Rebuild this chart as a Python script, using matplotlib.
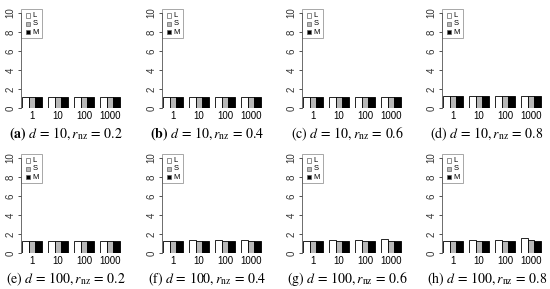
#!/usr/bin/env python3
#
# Grid of 8 bar plots: L / S / M ratio vs. group size
#

import numpy as np
import matplotlib.pyplot as plt

plt.rcParams['mathtext.fontset'] = 'stix'
plt.rcParams['font.family'] = ['Liberation Sans', 'DejaVu Sans']

groups = ['1', '10', '100', '1000']
methods = ['L', 'S', 'M']
colors = ['white', '#b8b8b8', 'black']

letters = ['a', 'b', 'c', 'd', 'e', 'f', 'g', 'h']
d_vals = [10, 10, 10, 10, 100, 100, 100, 100]
rnz_vals = [0.2, 0.4, 0.6, 0.8, 0.2, 0.4, 0.6, 0.8]

# values[panel][method][group]
vals_a = [[1.2, 1.2, 1.2, 1.2], [1.2, 1.2, 1.2, 1.2], [1.2, 1.2, 1.2, 1.2]]
vals_b = [[1.2, 1.2, 1.2, 1.2], [1.2, 1.2, 1.2, 1.2], [1.2, 1.2, 1.2, 1.2]]
vals_c = [[1.2, 1.2, 1.2, 1.2], [1.2, 1.2, 1.2, 1.2], [1.2, 1.2, 1.2, 1.2]]
vals_d = [[1.25, 1.25, 1.25, 1.25], [1.25, 1.25, 1.25, 1.25], [1.25, 1.25, 1.25, 1.25]]
vals_e = [[1.3, 1.3, 1.3, 1.3], [1.3, 1.3, 1.3, 1.3], [1.3, 1.3, 1.3, 1.3]]
vals_f = [[1.3, 1.38, 1.38, 1.4], [1.3, 1.3, 1.3, 1.3], [1.3, 1.3, 1.3, 1.3]]
vals_g = [[1.3, 1.35, 1.35, 1.5], [1.3, 1.3, 1.3, 1.3], [1.3, 1.3, 1.3, 1.3]]
vals_h = [[1.3, 1.38, 1.35, 1.62], [1.3, 1.3, 1.3, 1.35], [1.3, 1.3, 1.3, 1.3]]
values = [vals_a, vals_b, vals_c, vals_d, vals_e, vals_f, vals_g, vals_h]

W, H = 550, 289
col_x = [21, 162, 302, 442]   # pixel x of y-axis
row_y0 = [108, 253]           # pixel y of value 0
px_h = 95                     # pixels from 0 to 10
px_w = 100


def make_plot(ax, vals):
	for m in range(3):
		x = np.arange(4) * 4 + 1 + m
		ax.bar(x, vals[m], width=1, align='edge', color=colors[m],
			edgecolor='black', linewidth=0.6)
	ax.set_xlim(0.85, 16.15)
	ax.set_ylim(0, 10)
	ax.set_xticks(np.arange(4) * 4 + 2.5)
	ax.set_xticklabels(groups, fontsize=7)
	ax.tick_params(axis='x', length=0, pad=2.5)
	ax.set_yticks(range(0, 11, 2))
	ax.tick_params(axis='y', labelsize=7, length=2.5, width=0.6, pad=1.5,
		colors='#333333')
	for lab in ax.get_yticklabels():
		lab.set_rotation(90)
		lab.set_va('center')
	for s in ['top', 'right', 'bottom']:
		ax.spines[s].set_visible(False)
	ax.spines['left'].set_linewidth(0.6)
	ax.spines['left'].set_color('#555555')
	# legend box
	ax.add_patch(plt.Rectangle((0.85, 7.35), 3.2, 3.05, fill=False,
		edgecolor='#999999', linewidth=0.6, clip_on=False))
	for m in range(3):
		yy = 9.7 - m * 0.85
		ax.add_patch(plt.Rectangle((1.55, yy - 0.25), 0.75, 0.5,
			facecolor=colors[m], edgecolor='#666666', linewidth=0.5,
			clip_on=False))
		ax.text(2.6, yy, methods[m], fontsize=5.5, va='center', ha='left',
			clip_on=False)


fig = plt.figure(figsize=(W / 100, H / 100), dpi=100)

for i in range(8):
	r, c = divmod(i, 4)
	ax = fig.add_axes([col_x[c] / W, (H - row_y0[r]) / H, px_w / W, px_h / H])
	make_plot(ax, values[i])
	lab = r'$\mathbf{(%s)}$' % letters[i] if i < 2 else '(%s)' % letters[i]
	title = lab + r' $d\,=\,%d, r_{\mathrm{nz}}\,=\,%.1f$' % (d_vals[i], rnz_vals[i])
	fig.text((col_x[c] + 45) / W, (H - row_y0[r] - 26) / H, title,
		fontsize=10, ha='center', va='center', family='STIXGeneral')

plt.savefig('out.png', dpi=100)
